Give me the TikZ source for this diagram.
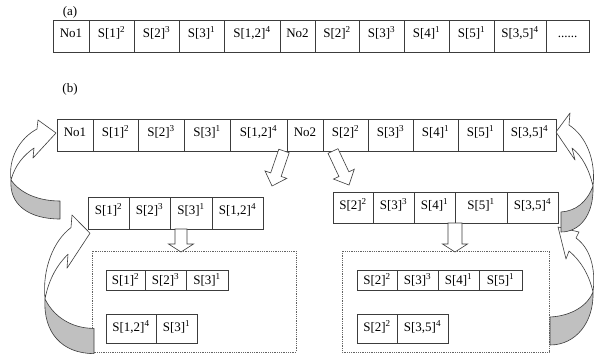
\documentclass[tikz,border=0pt]{standalone}
\usepackage{fontspec}
\setmainfont{Liberation Serif}
\usetikzlibrary{calc}
\definecolor{linec}{RGB}{60,60,60}
\definecolor{backc}{RGB}{192,192,192}
\newcommand\cells[5]{% #1 ytop, #2 height, #3 text height, #4 text depth, #5 list
  \foreach \nm/\xa/\xb/\tx in {#5}{%
    \node[cellbox, minimum height=#2pt, text height=#3pt, text depth=#4pt,
      minimum width={(\xb-\xa)*1pt}] (\nm) at (\xa,#1) {\tx};
  }}
\newcommand\sx[1]{\textsuperscript{#1}}
\newcommand\bigcurve{%
  \filldraw[curvefront] (11,180) .. controls (8,158) and (20,138) .. (37,129)
    -- (38,120) -- (56,133) -- (33,158) -- (34,148)
    .. controls (24,155) and (15,165) .. (11,180) -- cycle;
  \filldraw[curveback] (11,180) .. controls (20,193) and (38,201) .. (60,201)
    -- (60,219) .. controls (28,219) and (9,204) .. (11,180) -- cycle;
}
\newcommand\hollowarrow[7]{% x, y, angle, length, head length, shaft half, head half
  \begin{scope}[shift={(#1,#2)}, rotate=#3]
    \draw[hollow] (0,-#6) -- (#4-#5,-#6) -- (#4-#5,-#7) -- (#4,0)
      -- (#4-#5,#7) -- (#4-#5,#6) -- (0,#6) -- cycle;
  \end{scope}}
\begin{document}
\begin{tikzpicture}[x=1pt,y=-1pt,
  cellbox/.style={draw=linec, line width=0.7pt, inner sep=0pt, outer sep=0pt,
    anchor=north west, font=\fontsize{13}{15}\selectfont, align=center},
  dotbox/.style={draw=linec!80, densely dotted, line width=0.8pt},
  curvefront/.style={fill=white, draw=linec, line width=0.6pt, line join=round},
  curveback/.style={fill=backc, draw=linec, line width=0.6pt, line join=round},
  hollow/.style={fill=white, draw=linec, line width=0.6pt, line join=miter},
  lbl/.style={font=\fontsize{13}{15}\selectfont, inner sep=0pt}]
\fill[white] (0,0) rectangle (594,356);
\useasboundingbox (0,0) rectangle (594,356);

\node[lbl] (la) at (70,12) {(a)};
\node[lbl] (lb) at (70,89) {(b)};

% row (a)
\cells{20}{32}{17}{15}{a1/53/89/No1, a2/89/134/{S[1]\sx{2}}, a3/134/179/{S[2]\sx{3}},
  a4/179/224/{S[3]\sx{1}}, a5/224/280/{S[1,2]\sx{4}}, a6/280/315/No2,
  a7/315/359/{S[2]\sx{2}}, a8/359/404/{S[3]\sx{3}}, a9/404/449/{S[4]\sx{1}},
  a10/449/494/{S[5]\sx{1}}, a11/494/546/{S[3,5]\sx{4}}, a12/546/589/{......}}

% row (b)
\cells{119}{32}{17}{15}{b1/57/93/No1, b2/93/138/{S[1]\sx{2}}, b3/138/184/{S[2]\sx{3}},
  b4/184/230/{S[3]\sx{1}}, b5/230/287/{S[1,2]\sx{4}}, b6/287/323/No2,
  b7/323/368/{S[2]\sx{2}}, b8/368/413/{S[3]\sx{3}}, b9/413/458/{S[4]\sx{1}},
  b10/458/503/{S[5]\sx{1}}, b11/503/556/{S[3,5]\sx{4}}}

% middle rows
\cells{197}{32}{17}{15}{m1/88/129/{S[1]\sx{2}}, m2/129/170/{S[2]\sx{3}},
  m3/170/212/{S[3]\sx{1}}, m4/212/263/{S[1,2]\sx{4}}}
\cells{192}{31}{17}{14}{n1/333/373/{S[2]\sx{2}}, n2/373/414/{S[3]\sx{3}},
  n3/414/455/{S[4]\sx{1}}, n4/455/507/{S[5]\sx{1}}, n5/507/558/{S[3,5]\sx{4}}}

% dotted boxes
\draw[dotbox] (92,251) rectangle (296,352);
\draw[dotbox] (342,251) rectangle (549,352);

% inner rows
\cells{270}{20}{14}{6}{p1/106/145/{S[1]\sx{2}}, p2/145/186/{S[2]\sx{3}}, p3/186/228/{S[3]\sx{1}}}
\cells{314}{29}{17}{12}{q1/106/156/{S[1,2]\sx{4}}, q2/156/197/{S[3]\sx{1}}}
\cells{270}{20}{14}{6}{r1/357/397/{S[2]\sx{2}}, r2/397/438/{S[3]\sx{3}},
  r3/438/479/{S[4]\sx{1}}, r4/479/522/{S[5]\sx{1}}}
\cells{314}{29}{17}{12}{s1/357/397/{S[2]\sx{2}}, s2/397/448/{S[3,5]\sx{4}}}

% hollow arrows
\hollowarrow{284}{151}{-108.9}{37}{12}{5.5}{11.5}
\hollowarrow{333}{151}{-64.8}{37.6}{12}{5.5}{11.5}
\hollowarrow{181}{229}{-90}{23}{8}{6}{12.5}
\hollowarrow{455}{223}{-90}{29}{8}{7}{12.5}

% big curved arrows, left side
\bigcurve
\begin{scope}[shift={(34,47)}, yscale=1.4]
  \bigcurve
\end{scope}

% right lower curved arrow
\filldraw[curvefront] (593,292) .. controls (596,268) and (590,248) .. (576,238)
  -- (579,232) -- (558,227) -- (566,259) -- (569,251)
  .. controls (580,260) and (589,274) .. (593,292) -- cycle;
\filldraw[curveback] (593,292) .. controls (588,305) and (572,316) .. (550,317)
  -- (550,345) .. controls (576,345) and (594,322) .. (593,292) -- cycle;

% right upper curved arrow
\filldraw[curvefront] (593,186) .. controls (596,160) and (586,136) .. (569,125)
  -- (570,113) -- (556,132) -- (575,160) -- (572,148)
  .. controls (582,156) and (589,169) .. (593,186) -- cycle;
\filldraw[curveback] (593,186) .. controls (587,202) and (576,211) .. (561,212)
  -- (561,232) .. controls (579,232) and (594,216) .. (593,186) -- cycle;
\end{tikzpicture}
\end{document}
